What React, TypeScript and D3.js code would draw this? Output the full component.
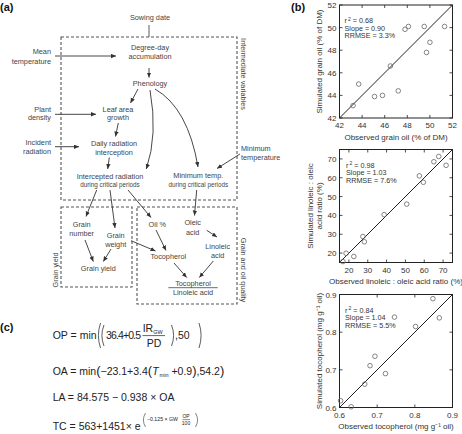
import * as d3 from "d3";
import React from "react";

// ---- panel (b) data ----
const oilTicks = [42, 44, 46, 48, 50, 52];
const oilObs = [43.2, 43.7, 45.1, 45.8, 46.5, 47.2, 47.8, 48.1, 49.5, 49.7, 50.0, 51.3];
const oilSim = [43.1, 45.0, 43.9, 44.0, 46.6, 44.4, 49.85, 50.1, 50.1, 47.8, 48.7, 50.1];
const oilStats = ["0.68", "0.90", "3.3%"];

const ratioTicks = [20, 30, 40, 50, 60, 70];
const ratioObs = [16.8, 18.5, 22.6, 27.4, 28.2, 38.7, 50.7, 57.4, 59.5, 65.1, 67.7, 71.6];
const ratioSim = [15.5, 19.9, 18.2, 28.8, 26.0, 40.4, 46.0, 61.0, 57.6, 68.5, 71.3, 66.6];
const ratioStats = ["0.98", "1.03", "7.6%"];

const tocoTicks = [0.6, 0.7, 0.8, 0.9];
const tocoObs = [0.603, 0.631, 0.667, 0.681, 0.694, 0.722, 0.746, 0.802, 0.848, 0.865];
const tocoSim = [0.618, 0.602, 0.662, 0.711, 0.736, 0.69, 0.84, 0.815, 0.889, 0.838];
const tocoStats = ["0.84", "1.04", "5.5%"];

const FONT = "'Liberation Sans', Arial, Helvetica, sans-serif";
const DIA = "#444";

type ScatterProps = {
  top: number;
  domain: [number, number];
  ticks: number[];
  fmt: (v: number) => string;
  obs: number[];
  sim: number[];
  stats: string[];
  statsX: number;
  xTitle: string;
  yTitle: string[];
};

const Scatter = ({ top, domain, ticks, fmt, obs, sim, stats, statsX, xTitle, yTitle }: ScatterProps) => {
  const left = 339.5, w = 113, h = 113;
  const x = d3.scaleLinear().domain(domain).range([left, left + w]);
  const y = d3.scaleLinear().domain(domain).range([top + h, top]);
  const tl = 3;
  const cy = top + h / 2;
  return (
    <g fontFamily={FONT} fill="#333">
      <rect x={left} y={top} width={w} height={h} fill="none" stroke="#222" strokeWidth={1} />
      {ticks.map((t) => (
        <g key={t} stroke="#222" strokeWidth={0.8}>
          <line x1={x(t)} x2={x(t)} y1={top + h} y2={top + h - tl} />
          <line x1={x(t)} x2={x(t)} y1={top} y2={top + tl} />
          <line x1={left} x2={left + tl} y1={y(t)} y2={y(t)} />
          <line x1={left + w} x2={left + w - tl} y1={y(t)} y2={y(t)} />
        </g>
      ))}
      {ticks.map((t) => (
        <text key={"x" + t} x={x(t)} y={top + h + 10} fontSize={8} textAnchor="middle">{fmt(t)}</text>
      ))}
      {ticks.map((t) => (
        <text key={"y" + t} x={left - 3} y={y(t) + 3} fontSize={8} textAnchor="end">{fmt(t)}</text>
      ))}
      <line x1={x(domain[0])} y1={y(domain[0])} x2={x(domain[1])} y2={y(domain[1])} stroke="#222" strokeWidth={1} />
      {obs.map((o, i) => (
        <circle key={i} cx={x(o)} cy={y(sim[i])} r={2.3} fill="none" stroke="#666" strokeWidth={0.8} />
      ))}
      <g fontSize={7.2}>
        <text x={statsX} y={top + 18}>r<tspan fontSize={5} dy={-2.5} dx={1}>2</tspan><tspan dy={2.5}> = {stats[0]}</tspan></text>
        <text x={statsX} y={top + 25.5}>Slope = {stats[1]}</text>
        <text x={statsX} y={top + 33}>RRMSE = {stats[2]}</text>
      </g>
      <text x={left + w / 2} y={top + h + 21.5} fontSize={8} textAnchor="middle">{xTitle}</text>
      {yTitle.map((s, i) => (
        <text key={s} transform={`translate(${319 - (yTitle.length - 1 - i) * 9},${cy}) rotate(-90)`}
          dy="0.35em" fontSize={8} textAnchor="middle">{s}</text>
      ))}
    </g>
  );
};

type LabelProps = { x: number; ys: number[]; lines: string[]; anchor?: string; size?: number[] };
const Label = ({ x, ys, lines, anchor = "middle", size }: LabelProps) => (
  <g>
    {lines.map((s, i) => (
      <text key={i} x={x} y={ys[i]} dy="0.35em" textAnchor={anchor} fontSize={size ? size[i] : 7.3}>{s}</text>
    ))}
  </g>
);

const arrows: [number, number, number, number][] = [
  [149, 68, 149, 77.5],
  [55, 56, 116, 56],
  [55, 114.3, 96, 114.3],
  [55, 146.7, 79, 146.7],
  [138, 89, 130.5, 103],
  [118.3, 123, 115.5, 136.5],
  [109.3, 157.5, 107.7, 169],
  [240, 154, 217, 168.5],
  [196.7, 190, 194.5, 215.5],
  [96.7, 190, 86, 216.5],
  [110, 190, 115, 228],
  [128, 190, 151, 217.5],
  [85, 240, 93.3, 261.5],
  [111, 249, 103.3, 261.5],
  [131, 240.7, 155.5, 251],
  [156, 230, 166, 250.5],
  [206.7, 230.3, 217, 237],
  [174, 263, 186.7, 277.5],
  [213.3, 261, 199.3, 277.5],
];

const Diagram = () => (
  <g fontFamily={FONT} fill={DIA}>
    <defs>
      <marker id="ah" markerUnits="userSpaceOnUse" markerWidth={6} markerHeight={5} refX={5} refY={2.2} orient="auto">
        <path d="M0,0 L5,2.2 L0,4.4 z" fill="#333" />
      </marker>
    </defs>
    <g fill="none" stroke="#555" strokeWidth={1.1} strokeDasharray="3,2">
      <rect x={61} y={37} width={176} height={163} />
      <rect x={61} y={207} width={71} height={80} />
      <rect x={137} y={207} width={100} height={97} />
    </g>
    <line x1={149} y1={25} x2={149} y2={37} stroke="#333" strokeWidth={0.8} />
    <g stroke="#333" strokeWidth={0.9} fill="none">
      {arrows.map((a, i) => (
        <line key={i} x1={a[0]} y1={a[1]} x2={a[2]} y2={a[3]} markerEnd="url(#ah)" />
      ))}
      <path d="M150,90 Q158,135 146.3,169" markerEnd="url(#ah)" />
      <path d="M155,89 Q188,108 198,167" markerEnd="url(#ah)" />
    </g>
    <Label x={150} ys={[17.3]} lines={["Sowing date"]} />
    <Label x={150} ys={[47.7, 56.3]} lines={["Degree-day", "accumulation"]} />
    <Label x={150} ys={[83.3]} lines={["Phenology"]} />
    <Label x={51} ys={[51.7, 61]} lines={["Mean", "temperature"]} anchor="end" />
    <Label x={51} ys={[109, 117.7]} lines={["Plant", "density"]} anchor="end" />
    <Label x={51} ys={[142.7, 151.7]} lines={["Incident", "radiation"]} anchor="end" />
    <Label x={118} ys={[109.3, 117.7]} lines={["Leaf area", "growth"]} />
    <Label x={114} ys={[143.3, 152.3]} lines={["Daily radiation", "interception"]} />
    <Label x={110} ys={[176, 185]} lines={["Intercepted radiation", "during critical periods"]} size={[7.3, 6.3]} />
    <Label x={198.3} ys={[175.7, 184.3]} lines={["Minimum temp.", "during critical periods"]} size={[7.3, 6.3]} />
    <Label x={241} ys={[148.3, 157.3]} lines={["Minimum", "temperature"]} anchor="start" />
    <Label x={81.7} ys={[224.7, 233.7]} lines={["Grain", "number"]} />
    <Label x={115.7} ys={[235.7, 244.7]} lines={["Grain", "weight"]} />
    <Label x={98.3} ys={[268.7]} lines={["Grain yield"]} />
    <Label x={157.3} ys={[224]} lines={["Oil %"]} />
    <Label x={192.7} ys={[222.7, 232]} lines={["Oleic", "acid"]} />
    <Label x={217.7} ys={[246, 255.3]} lines={["Linoleic", "acid"]} />
    <Label x={168.3} ys={[256.7]} lines={["Tocopherol"]} />
    <Label x={193} ys={[283.3, 292.2]} lines={["Tocopherol", "Linoleic acid"]} />
    <line x1={168.3} x2={217.7} y1={287.7} y2={287.7} stroke="#444" strokeWidth={0.8} />
    <text transform="translate(244,74) rotate(90)" dy="0.35em" textAnchor="middle" fontSize={7.3}>Intermediate variables</text>
    <text transform="translate(244,270) rotate(90)" dy="0.35em" textAnchor="middle" fontSize={7.3}>Grain and oil quality</text>
    <text transform="translate(55,270) rotate(-90)" dy="0.35em" textAnchor="middle" fontSize={7.3}>Grain yield</text>
  </g>
);

const paren = (x: number, y1: number, y2: number, open: boolean) => {
  const b = open ? -3 : 3;
  const m = (y1 + y2) / 2;
  return `M${x},${y1} Q${x + b * 1.4},${m} ${x},${y2}`;
};

const Equations = () => (
  <g fontFamily={FONT} fill="#222" fontSize={10.5}>
    {/* OP */}
    <text x={52.7} y={339}>OP = min</text>
    <g fill="none" stroke="#333" strokeWidth={0.8}>
      <path d={paren(100.5, 323, 348, true)} />
      <path d={paren(104, 325, 346, true)} />
      <path d={paren(171.5, 325, 346, false)} />
      <path d={paren(199, 323, 348, false)} />
    </g>
    <text x={106} y={339} textLength={35}>36.4+0.5</text>
    <text x={142.7} y={332}>IR<tspan fontSize={5.5} dy={2}>GW</tspan></text>
    <line x1={142.5} x2={165} y1={335.6} y2={335.6} stroke="#222" strokeWidth={0.7} />
    <text x={154} y={347} textAnchor="middle">PD</text>
    <text x={175} y={339}>,50</text>
    {/* OA */}
    <text x={52.7} y={374.5} fontSize={10.5}>
      OA = min<tspan fontSize={13}>(</tspan>−23.1+3.4<tspan fontSize={13}>(</tspan>
      <tspan fontStyle="italic">T</tspan><tspan fontSize={5.5} dy={2.5} dx={1}>min</tspan>
      <tspan dy={-2.5} dx={3}>+0.9</tspan><tspan fontSize={13}>)</tspan>,54.2<tspan fontSize={13}>)</tspan>
    </text>
    {/* LA */}
    <text x={52.7} y={401}>LA = 84.575 − 0.938 × OA</text>
    {/* TC */}
    <text x={52.7} y={430}>TC = 563+1451×  e</text>
    <g fill="none" stroke="#333" strokeWidth={0.6}>
      <path d={paren(145.5, 413, 427, true)} />
      <path d={paren(195.5, 413, 427, false)} />
    </g>
    <text x={147} y={420.5} fontSize={5.2}>−0.125 × GW</text>
    <text x={186} y={418} fontSize={5} textAnchor="middle">OP</text>
    <line x1={182.5} x2={190} y1={419.6} y2={419.6} stroke="#222" strokeWidth={0.5} />
    <text x={186} y={425} fontSize={5} textAnchor="middle">100</text>
  </g>
);

const App = () => (
  <svg width={462} height={434} style={{ position: "absolute", left: 0, top: 0, opacity: 0.995 }}>
    <rect width={462} height={434} fill="#fff" />
    <g fontFamily={FONT} fontWeight="bold" fontSize={11} fill="#111">
      <text x={0} y={11}>(a)</text>
      <text x={291} y={11}>(b)</text>
      <text x={0} y={331}>(c)</text>
    </g>
    <Diagram />
    <Scatter top={5} domain={[42, 52]} ticks={oilTicks} fmt={(v) => String(v)} obs={oilObs} sim={oilSim}
      stats={oilStats} statsX={344.5} xTitle="Observed grain oil (% of DM)" yTitle={["Simulated grain oil (% of DM)"]} />
    <Scatter top={149.5} domain={[15, 75]} ticks={ratioTicks} fmt={(v) => String(v)} obs={ratioObs} sim={ratioSim}
      stats={ratioStats} statsX={346} xTitle="Observed linoleic : oleic acid ratio (%)"
      yTitle={["Simulated linoleic : oleic", "acid ratio (%)"]} />
    <Scatter top={294.5} domain={[0.6, 0.9]} ticks={tocoTicks} fmt={(v) => v.toFixed(1)} obs={tocoObs} sim={tocoSim}
      stats={tocoStats} statsX={345} xTitle="Observed tocopherol (mg g⁻¹ oil)"
      yTitle={["Simulated tocopherol (mg g⁻¹ oil)"]} />
    <Equations />
  </svg>
);

export default App;
